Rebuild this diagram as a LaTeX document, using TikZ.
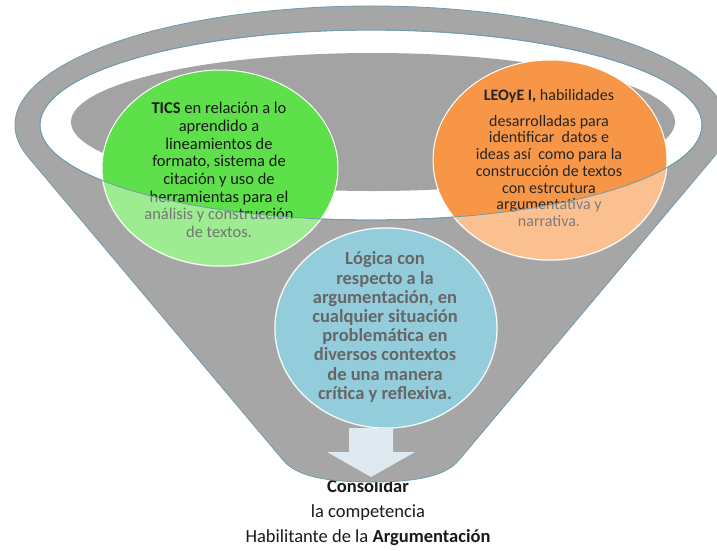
\documentclass[tikz,border=0pt]{standalone}
\usepackage{fontspec}
\setmainfont{Carlito}
\definecolor{rimgray}{HTML}{A6A6A6}
\definecolor{innergray}{HTML}{A3A3A3}
\definecolor{edgec}{HTML}{6E9BAE}
\definecolor{greenc}{HTML}{5EE04A}
\definecolor{orangec}{HTML}{F79646}
\definecolor{bluec}{HTML}{4BACC6}
\definecolor{arrowc}{HTML}{DEEAF0}
\begin{document}
\begin{tikzpicture}[x=1pt,y=-1pt,
  funnel/.style={fill=rimgray, draw=edgec, line width=0.8pt},
  ringst/.style={fill=white, draw=edgec, line width=0.8pt},
  ballst/.style={draw=white, line width=1pt},
  veil/.style={fill=white, fill opacity=0.4, even odd rule},
  gtext/.style={align=center, inner sep=0pt, font=\fontsize{16.5}{17.7}\selectfont, text=black!90},
  otext/.style={align=center, inner sep=0pt, font=\fontsize{16}{16.7}\selectfont, text=black!85},
  btext/.style={align=center, inner sep=0pt, font=\fontsize{18.5}{19.2}\selectfont\bfseries, text=black},
  captext/.style={align=center, inner sep=0pt, font=\fontsize{18.5}{25}\selectfont, text=black!90}
]
\useasboundingbox (0,0) rectangle (717,550);

% caption below the funnel (drawn first, the funnel bottom overlaps it)
\node[captext] (cap) at (368,513) {\textbf{Consolidar}\\la competencia\\Habilitante de la \textbf{Argumentación}};

% funnel body
\path[funnel] (28.3,157.2) arc[start angle=195.7, end angle=-15.7, x radius=356pt, y radius=119pt]
  -- (459,460) .. controls (444,479) and (405,482) .. (371,482)
  .. controls (337,482) and (298,479) .. (283,460) -- cycle;

% white ring and inner gray opening
\path[ringst] (371,125) ellipse[x radius=331pt, y radius=95pt];
\fill[innergray] (373,122) ellipse[x radius=302pt, y radius=69pt];

% balls
\path[ballst, fill=greenc] (220,168) ellipse[x radius=118pt, y radius=98pt];
\path[ballst, fill=orangec] (550,160) ellipse[x radius=117pt, y radius=100pt];
\path[ballst, fill=bluec] (386,328) ellipse[x radius=111pt, y radius=100pt];

\node[gtext] (tg) at (219,170) {\textbf{TICS} en relación a lo\\aprendido a\\lineamientos de\\formato, sistema de\\citación y uso de\\herramientas para el\\análisis y construcción\\de textos.};
\node[otext] (to) at (549,158) {\textbf{LEOyE I,} habilidades\\[9pt]desarrolladas para\\identificar\ \ datos e\\ideas así\ \ como para la\\construcción de textos\\con estrcutura\\argumentativa y\\narrativa.};
\node[btext, text=black] (tb) at (385,327) {Lógica con\\respecto a la\\argumentación, en\\cualquier situación\\problemática en\\diversos contextos\\de una manera\\crítica y reflexiva.};

% translucent front of the funnel over the balls
\begin{scope}
  \clip (220,168) ellipse[x radius=119pt, y radius=99pt];
  \path[veil] (0,0) rectangle (717,550) (371,125) ellipse[x radius=331pt, y radius=95pt];
\end{scope}
\begin{scope}
  \clip (550,160) ellipse[x radius=118pt, y radius=101pt];
  \path[veil] (0,0) rectangle (717,550) (371,125) ellipse[x radius=331pt, y radius=95pt];
\end{scope}
\begin{scope}
  \clip (386,328) ellipse[x radius=112pt, y radius=101pt];
  \path[veil] (0,0) rectangle (717,550) (371,125) ellipse[x radius=331pt, y radius=95pt];
\end{scope}

% rim edge seen through the balls
\draw[edgec, line width=0.8pt] (371,125) ellipse[x radius=331pt, y radius=95pt];

% arrow
\fill[arrowc] (349,428) -- (393,428) -- (393,452) -- (415,452) -- (371,477) -- (327,452) -- (349,452) -- cycle;
\end{tikzpicture}
\end{document}
